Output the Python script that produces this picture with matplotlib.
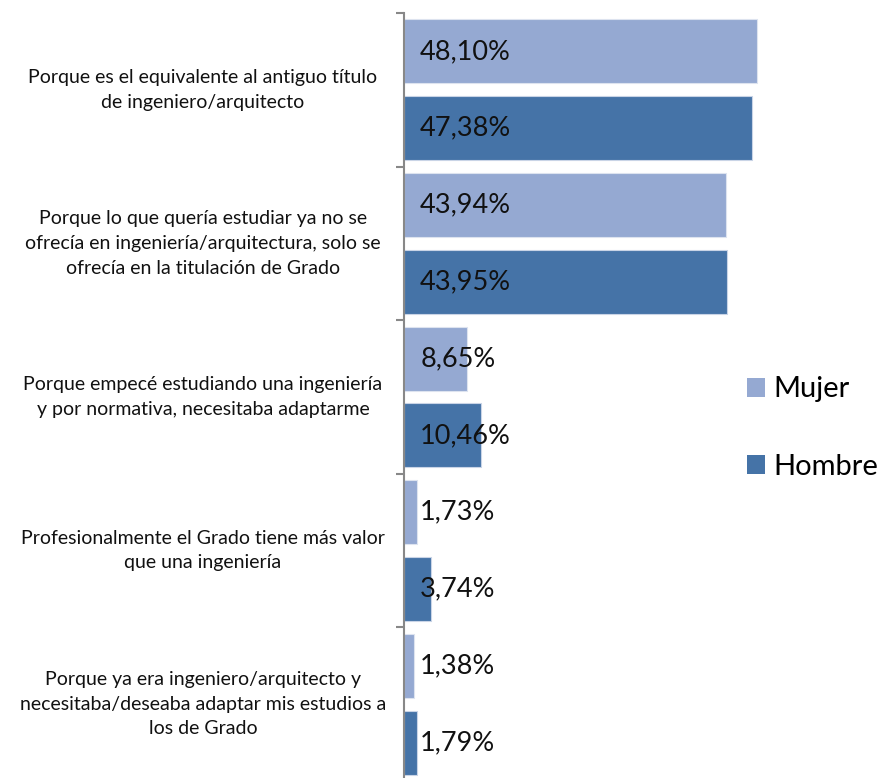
import matplotlib
matplotlib.use("Agg")
import matplotlib.pyplot as plt
from matplotlib.patches import Patch
import numpy as np

categories = [
    "Porque es el equivalente al antiguo título\nde ingeniero/arquitecto",
    "Porque lo que quería estudiar ya no se\nofrecía en ingeniería/arquitectura, solo se\nofrecía en la titulación de Grado",
    "Porque empecé estudiando una ingeniería\ny por normativa, necesitaba adaptarme",
    "Profesionalmente el Grado tiene más valor\nque una ingeniería",
    "Porque ya era ingeniero/arquitecto y\nnecesitaba/deseaba adaptar mis estudios a\nlos de Grado",
]
mujer = [48.10, 43.94, 8.65, 1.73, 1.38]
hombre = [47.38, 43.95, 10.46, 3.74, 1.79]
series_names = ["Mujer", "Hombre"]
colors = ["#95A9D2", "#4573A7"]

W, H = 880, 778
fig = plt.figure(figsize=(W / 100, H / 100), dpi=100)
ax_left, ax_right = 404, 880
ax_top, ax_bot = 13, 781
ax = fig.add_axes([ax_left / W, 1 - ax_bot / H, (ax_right - ax_left) / W, (ax_bot - ax_top) / H])

n = len(categories)
px_per_unit = 353 / 48.10
ax.set_xlim(0, (ax_right - ax_left) / px_per_unit)
ax.set_ylim(n, 0)

y = np.arange(n) + 0.5
bh = 0.417
ax.barh(y - 0.25, mujer, height=bh, color=colors[0], edgecolor="#DDE3EF", linewidth=0.8)
ax.barh(y + 0.25, hombre, height=bh, color=colors[1], edgecolor="#C9D4E6", linewidth=0.8)

font = "Lato"
for i in range(n):
    ax.text(2.2, y[i] - 0.25, f"{mujer[i]:.2f}".replace(".", ",") + "%", va="center", ha="left",
            fontsize=19.5, family=font, color="#111111")
    ax.text(2.2, y[i] + 0.25, f"{hombre[i]:.2f}".replace(".", ",") + "%", va="center", ha="left",
            fontsize=19.5, family=font, color="#111111")
    ax.text(-(404 - 203) / px_per_unit, y[i], categories[i], ha="center", va="center",
            fontsize=14, family=font, linespacing=1.55, color="#111111")

for s in ["top", "right", "bottom"]:
    ax.spines[s].set_visible(False)
ax.spines["left"].set_color("#888888")
ax.spines["left"].set_linewidth(1.5)
ax.set_xticks([])
ax.set_yticks(np.arange(n + 1))
ax.set_yticklabels([])
ax.tick_params(axis="y", length=6, width=1.5, color="#888888", direction="out")

handles = [Patch(facecolor=colors[0]), Patch(facecolor=colors[1])]
leg = fig.legend(handles, series_names, loc="center left", bbox_to_anchor=(747 / W, 1 - 428 / H),
                 frameon=False, prop={"family": font, "size": 21}, handlelength=0.62, handleheight=0.62,
                 handletextpad=0.3, labelspacing=1.75, borderaxespad=0, borderpad=0)

fig.savefig("out.png", dpi=100)
